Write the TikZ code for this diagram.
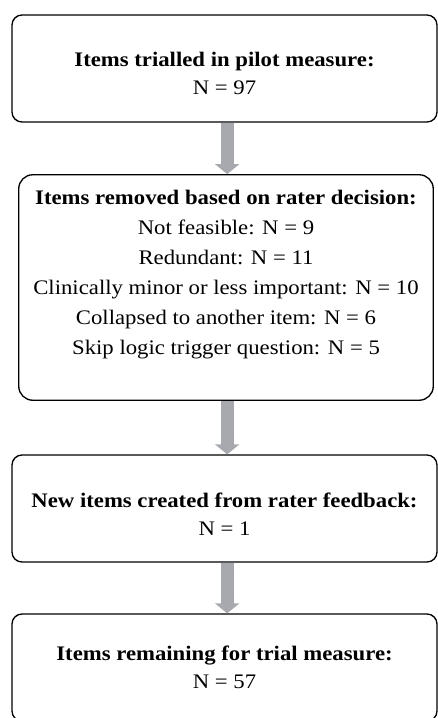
\documentclass[tikz,border=0pt]{standalone}
\usepackage{fontspec}
\setmainfont{Liberation Serif}[FakeStretch=1.1]
\usetikzlibrary{arrows.meta}
\definecolor{arrowgray}{RGB}{167,169,174}
\tikzset{
  itembox/.style={draw, line width=1pt, rounded corners=7.5pt, align=center,
    minimum width=318.75pt, minimum height=80.25pt, inner sep=0pt,
    font=\fontsize{15.5}{21}\selectfont},
  flowarrow/.style={arrowgray, line width=9.5pt,
    -{Triangle[width=18pt,length=7.5pt]}}
}
\begin{document}
\begin{tikzpicture}[x=0.75pt,y=-0.75pt]
            % Рамка рисунка
            \useasboundingbox (0,0) rectangle (438,718);

            % Блоки
            \node[itembox] (trialled) at (224.5,68.5)
                {\rule{0pt}{17.4pt}\textbf{Items trialled in pilot measure:}\\ N = 97};
            \node[itembox, minimum width=310.9pt, minimum height=169.1pt,
                  rounded corners=10.5pt, font=\fontsize{15.5}{22.5}\selectfont] (removed) at (226,287.5)
                {\textbf{Items removed based on rater decision:}\\
                 Not feasible: N = 9\\
                 Redundant: N = 11\\
                 Clinically minor or less important: N = 10\\
                 Collapsed to another item: N = 6\\
                 Skip logic trigger question: N = 5\rule[-22.9pt]{0pt}{0pt}};
            \node[itembox] (created) at (224.5,508.5)
                {\rule{0pt}{19.6pt}\textbf{New items created from rater feedback:}\\ N = 1};
            \node[itembox] (remaining) at (224.5,667.5)
                {\textbf{Items remaining for trial measure:}\\ N = 57};

            % Стрелки
            \draw[flowarrow] ([xshift=2pt]trialled.south) -- ([xshift=2pt]trialled.south |- removed.north);
            \draw[flowarrow] ([xshift=2pt]trialled.south |- removed.south) -- ([xshift=2pt]created.north);
            \draw[flowarrow] ([xshift=2pt]created.south) -- ([xshift=2pt]remaining.north);
\end{tikzpicture}
\end{document}
